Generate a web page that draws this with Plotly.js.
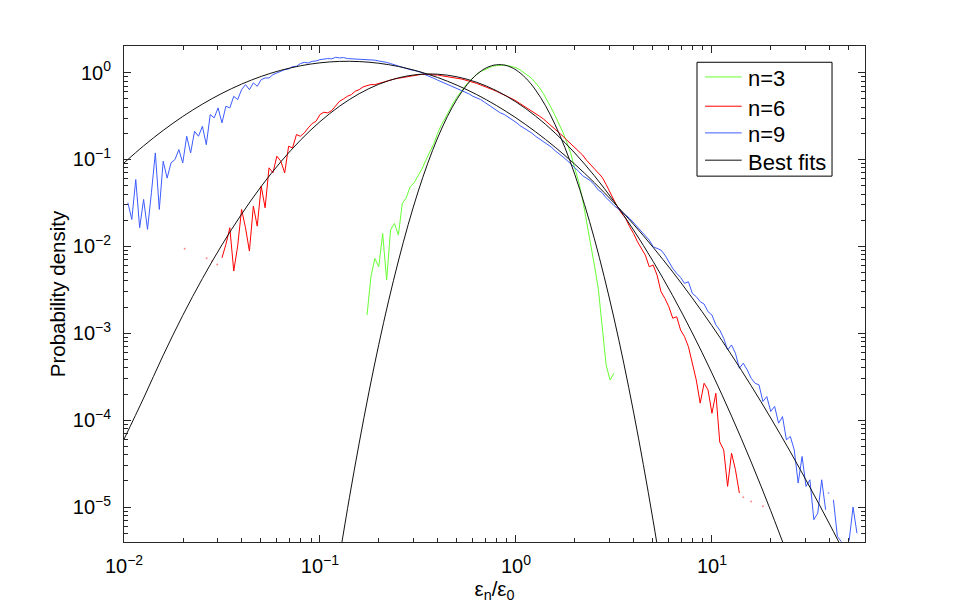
<!DOCTYPE html>
<html><head><meta charset="utf-8">
<script src="https://cdn.plot.ly/plotly-3.0.1.min.js"></script>
<style>html,body{margin:0;padding:0;background:#fff}#chart{width:955px;height:611px}</style>
</head><body><div id="chart"></div>
<script>
// Histogram bin centres (log-spaced, 50 per decade), shared by the three data series
const bins = [
0.01,0.01047,0.01096,0.01148,0.01202,0.01259,0.01318,0.0138,0.01445,0.01514,0.01585,0.0166,0.01738,0.0182,0.01905,0.01995,0.02089,0.02188,0.02291,0.02399,0.02512,0.0263,0.02754,0.02884,0.0302,0.03162,0.03311,0.03467,0.03631,0.03802,0.03981,0.04169,0.04365,0.04571,0.04786,0.05012,0.05248,0.05495,0.05754,0.06026,0.0631,0.06607,0.06918,0.07244,0.07586,0.07943,0.08318,0.0871,0.0912,0.0955,
0.1,0.1047,0.1096,0.1148,0.1202,0.1259,0.1318,0.138,0.1445,0.1514,0.1585,0.166,0.1738,0.182,0.1905,0.1995,0.2089,0.2188,0.2291,0.2399,0.2512,0.263,0.2754,0.2884,0.302,0.3162,0.3311,0.3467,0.3631,0.3802,0.3981,0.4169,0.4365,0.4571,0.4786,0.5012,0.5248,0.5495,0.5754,0.6026,0.631,0.6607,0.6918,0.7244,0.7586,0.7943,0.8318,0.871,0.912,0.955,
1,1.047,1.096,1.148,1.202,1.259,1.318,1.38,1.445,1.514,1.585,1.66,1.738,1.82,1.905,1.995,2.089,2.188,2.291,2.399,2.512,2.63,2.754,2.884,3.02,3.162,3.311,3.467,3.631,3.802,3.981,4.169,4.365,4.571,4.786,5.012,5.248,5.495,5.754,6.026,6.31,6.607,6.918,7.244,7.586,7.943,8.318,8.71,9.12,9.55,
10,10.47,10.96,11.48,12.02,12.59,13.18,13.8,14.45,15.14,15.85,16.6,17.38,18.2,19.05,19.95,20.89,21.88,22.91,23.99,25.12,26.3,27.54,28.84,30.2,31.62,33.11,34.67,36.31,38.02,39.81,41.69,43.65,45.71,47.86,50.12,52.48,54.95,57.54,60.26
];

// n=9 : first bin index 1 (eps = 0.01047)
const n9First = 1;
const n9Pdf = [
0.0317,0.0204,0.0588,0.0164,0.0347,0.0157,0.0414,0.119,0.0266,0.0955,
0.061,0.0914,0.0999,0.130,0.0914,0.185,0.119,0.211,0.185,0.241,
0.148,0.329,0.301,0.392,0.264,0.410,0.392,0.534,0.489,0.637,
0.727,0.637,0.760,0.696,0.830,0.867,0.867,0.948,0.990,1.035,
1.082,1.10,1.17,1.181,1.27,1.31,1.29,1.349,1.36,1.409,
1.43,1.45,1.44,1.50,1.473,1.49,1.45,1.44,1.45,1.42,
1.42,1.40,1.39,1.39,1.36,1.34,1.31,1.27,1.225,1.18,
1.16,1.12,1.08,1.06,1.02,1.00,0.94,0.907,0.86,0.82,
0.785,0.75,0.72,0.685,0.65,0.62,0.595,0.57,0.534,0.51,
0.489,0.456,0.425,0.397,0.375,0.344,0.33,0.31,0.288,0.268,
0.246,0.231,0.218,0.202,0.185,0.173,0.16,0.15,0.139,0.126,
0.117,0.107,0.098,0.0896,0.082,0.073,0.065,0.061,0.057,0.051,
0.0446,0.0414,0.0362,0.033,0.0295,0.0272,0.0252,0.0229,0.0210,0.0187,
0.01652,0.01512,0.01349,0.01181,0.0099,0.00948,0.00907,0.00795,0.00666,0.00558,
0.00489,0.0044,0.00375,0.00392,0.00288,0.00264,0.00231,0.00217,0.00177,0.00162,
0.00125,0.00109,0.000875,0.000643,0.000733,0.000589,0.000396,0.000452,0.000379,0.000304,
0.000266,0.000255,0.000164,0.000187,0.000126,0.000144,0.0000923,0.000110,0.0000594,0.0000649,
0.0000456,0.0000189,0.0000382,0.0000173,0.0000206,0.00000715,0.0000085,0.0000206,0.0000093,null,
0.0000121,0.0000046,0.000004,null,0.0000041,0.00001,0.000005
];

// n=6 : first bin index 25 (eps = 0.03162)
const n6First = 25;
const n6Pdf = [
0.00738,0.01054,0.01637,0.0052,0.0101,0.0266,0.01637,0.00883,0.0290,0.0171,
0.0493,0.0278,0.0802,0.0702,0.109,0.0956,0.0702,0.142,0.136,0.1935,
0.185,0.2025,0.231,0.259,0.2756,0.329,0.350,0.344,0.366,0.417,
0.468,0.4975,0.534,0.558,0.610,0.637,0.684,0.708,0.727,0.727,
0.75,0.778,0.806,0.830,0.845,0.86,0.875,0.897,0.92,0.94,
0.948,0.956,0.948,0.956,0.94,0.94,0.92,0.907,0.897,0.882,
0.86,0.845,0.823,0.80,0.778,0.75,0.72,0.696,0.666,0.637,
0.61,0.583,0.555,0.527,0.50,0.472,0.443,0.41,0.386,0.364,
0.339,0.315,0.293,0.268,0.246,0.226,0.207,0.185,0.167,0.152,
0.137,0.1245,0.1125,0.098,0.087,0.079,0.070,0.0625,0.0516,0.0414,
0.033,0.0277,0.0239,0.02097,0.01683,0.0141,0.0113,0.00948,0.00794,0.00583,
0.0061,0.00468,0.00301,0.00252,0.00202,0.00149,0.00155,0.00109,0.000915,0.000702,
0.000451,0.00029,0.000157,0.000266,0.000223,0.00012,0.000204,0.000056,0.0000456,0.0000173,
0.0000417,0.0000269,0.0000145
];

// n=3 : first bin index 62 (eps = 0.1738)
const n3First = 62;
const n3Pdf = [
0.00162,0.00448,0.00727,0.00583,0.0141,0.0041,0.0154,0.01837,0.01349,0.0312,
0.0362,0.0485,0.0539,0.0643,0.0773,0.0982,0.119,0.150,0.199,0.252,
0.301,0.369,0.448,0.525,0.610,0.696,0.787,0.875,0.956,1.026,
1.082,1.14,1.181,1.20,1.224,1.224,1.20,1.181,1.14,1.082,
1.007,0.94,0.86,0.76,0.672,0.573,0.48,0.392,0.319,0.257,
0.204,0.156,0.1165,0.0793,0.0555,0.0347,0.0195,0.0118,0.0061,0.00329,
0.00119,0.000433,0.00029,0.000347
];

// isolated (sparse) bins drawn as single dots
const n6DotEps = [0.0204,0.0264,0.0282,0.0299,14.45,15.85,18.2];
const n6DotPdf = [0.0094,0.00728,0.00678,0.0062,0.000013,0.0000116,0.0000102];
const n9DotEps = [39.3];
const n9DotPdf = [0.0000145];

// best-fit curves
const fitEps = [0.01,0.01259,0.01585,0.01995,0.02512,0.03162,0.03981,0.05012,0.0631,0.07943,
  0.1,0.1259,0.1585,0.1995,0.2512,0.3162,0.3981,0.5012,0.631,0.7943,
  1,1.259,1.585,1.995,2.512,3.162,3.981,5.012,6.31,7.943,
  10,12.59,15.85,19.95,25.12,31.62,39.81,50.12];
const fit9 = [0.0912,0.1435,0.2163,0.3126,0.4336,0.5771,0.7376,0.9036,1.062,1.197,
  1.295,1.345,1.339,1.281,1.176,1.037,0.879,0.715,0.558,0.4183,
  0.3014,0.2084,0.1384,0.0883,0.0541,0.0318,0.01795,0.00974,0.00507,0.00254,
  0.00122,0.000562,0.000249,0.000106,0.0000432,0.0000169,0.00000638,0.00000231];
const fit6 = [0.0000603,0.0001795,0.000558,0.001607,0.00426,0.01042,0.0235,0.0490,0.0940,0.1667,
  0.2723,0.411,0.5715,0.734,0.869,0.950,0.958,0.894,0.773,0.6196,
  0.4598,0.3162,0.2014,0.1189,0.0650,0.0329,0.01543,0.00671,0.0027,0.001008,
  0.000348,0.0001114,0.0000331,0.00000908,0.00000231];
const fit3Eps = [0.1259,0.1413,0.1585,0.1778,0.1995,0.2239,0.2512,0.2818,0.3162,0.3548,
  0.3981,0.4467,0.5012,0.5623,0.631,0.7079,0.7943,0.8913,1,1.122,
  1.259,1.413,1.585,1.778,1.995,2.239,2.512,2.818,3.162,3.548,
  3.981,4.467,5.012,5.623];
const fit3 = [0.00000271,0.0000128,0.0000545,0.000211,0.000741,0.00236,0.00679,0.01778,0.0422,0.0906,
  0.1766,0.312,0.499,0.724,0.953,1.138,1.230,1.207,1.073,0.865,
  0.631,0.418,0.251,0.1368,0.0675,0.0302,0.01225,0.0045,0.0015,0.000454,
  0.000124,0.0000308,0.00000695,0.00000142];

const xTickVals = [0.01, 0.1, 1, 10];
const xTickText = ['10<sup>\u22122</sup>','10<sup>\u22121</sup>','10<sup>0</sup>','10<sup>1</sup>'];
const yTickVals = [1e-5, 1e-4, 1e-3, 1e-2, 1e-1, 1];
const yTickText = ['10<sup>\u22125</sup>','10<sup>\u22124</sup>','10<sup>\u22123</sup>','10<sup>\u22122</sup>','10<sup>\u22121</sup>','10<sup>0</sup>'];
const legendLabels = ['n=3', 'n=6', 'n=9', 'Best fits'];

const GREEN = '#66ff33', RED = '#ff0000', BLUE = '#3d5cff', BLACK = '#111111';
const legendColors = [GREEN, RED, BLUE, BLACK];
const FONT = 'Liberation Sans, Arial, Helvetica, sans-serif';

function minorVals(lo, hi) {
  const v = [];
  for (let d = lo; d <= hi; d++) for (let k = 2; k <= 9; k++) v.push(k * Math.pow(10, d));
  return v;
}

const traces = [
  {x: bins.slice(n3First, n3First + n3Pdf.length), y: n3Pdf, name: legendLabels[0], mode: 'lines',
   line: {color: GREEN, width: 1}, connectgaps: false},
  {x: bins.slice(n6First, n6First + n6Pdf.length), y: n6Pdf, name: legendLabels[1], mode: 'lines',
   line: {color: RED, width: 1}, connectgaps: false},
  {x: bins.slice(n9First, n9First + n9Pdf.length), y: n9Pdf, name: legendLabels[2], mode: 'lines',
   line: {color: BLUE, width: 1}, connectgaps: false},
  {x: n6DotEps, y: n6DotPdf, mode: 'markers', name: legendLabels[1],
   marker: {color: RED, size: 2, opacity: 0.45}},
  {x: n9DotEps, y: n9DotPdf, mode: 'markers', name: legendLabels[2],
   marker: {color: BLUE, size: 2, opacity: 0.5}},
  {x: fitEps, y: fit9, name: legendLabels[3], mode: 'lines', line: {color: BLACK, width: 1, shape: 'spline'}},
  {x: fitEps.slice(0, fit6.length), y: fit6, name: legendLabels[3], mode: 'lines',
   line: {color: BLACK, width: 1, shape: 'spline'}},
  {x: fit3Eps, y: fit3, name: legendLabels[3], mode: 'lines', line: {color: BLACK, width: 1, shape: 'spline'}}
];

// Legend box drawn in the MATLAB style (box, short line sample, label)
const legBox = {x0: 0.7733, x1: 0.9555, y0: 0.7376, y1: 0.9672};
const legRowsY = [0.9376, 0.8786, 0.8248, 0.7698];
const shapes = [{type: 'rect', xref: 'paper', yref: 'paper', x0: legBox.x0, x1: legBox.x1, y0: legBox.y0, y1: legBox.y1,
  line: {color: '#000', width: 1}, fillcolor: '#fff', layer: 'above'}];
const annotations = [];
legendLabels.forEach((lab, i) => {
  shapes.push({type: 'line', xref: 'paper', yref: 'paper', x0: 0.7841, x1: 0.8336, y0: legRowsY[i], y1: legRowsY[i],
    line: {color: legendColors[i], width: 1}, layer: 'above'});
  annotations.push({xref: 'paper', yref: 'paper', x: 0.8396, y: legRowsY[i] - 0.004, xanchor: 'left', yanchor: 'middle',
    text: lab, showarrow: false, font: {family: FONT, size: 22, color: '#000'}});
});

const axisCommon = {
  type: 'log', showgrid: false, zeroline: false,
  showline: true, linecolor: '#262626', linewidth: 1, mirror: 'allticks',
  ticks: 'inside', ticklen: 7, tickwidth: 1, tickcolor: '#262626',
  tickmode: 'array',
  tickfont: {family: FONT, size: 20, color: '#000'}
};

const layout = {
  width: 955, height: 611,
  margin: {l: 124, r: 90, t: 46, b: 69},
  paper_bgcolor: '#fff', plot_bgcolor: '#fff',
  font: {family: FONT, color: '#000'},
  showlegend: false,
  shapes: shapes,
  annotations: annotations,
  xaxis: Object.assign({}, axisCommon, {
    range: [-2, 1.781], tickvals: xTickVals, ticktext: xTickText,
    ticklabelstandoff: 6,
    minor: {tickmode: 'array', tickvals: minorVals(-2, 1), ticks: 'inside', ticklen: 4, tickcolor: '#262626', showgrid: false},
    title: {text: '\u03b5<sub>n</sub>/\u03b5<sub>0</sub>', font: {family: FONT, size: 20.5, color: '#000'}, standoff: 5}
  }),
  yaxis: Object.assign({}, axisCommon, {
    range: [-5.402, 0.306], tickvals: yTickVals, ticktext: yTickText,
    ticklabelstandoff: 8,
    minor: {tickmode: 'array', tickvals: minorVals(-6, 0), ticks: 'inside', ticklen: 4, tickcolor: '#262626', showgrid: false},
    title: {text: 'Probability density', font: {family: FONT, size: 20.5, color: '#000'}, standoff: 1}
  })
};

Plotly.newPlot('chart', traces, layout, {displayModeBar: false, staticPlot: true});
</script>
</body></html>
